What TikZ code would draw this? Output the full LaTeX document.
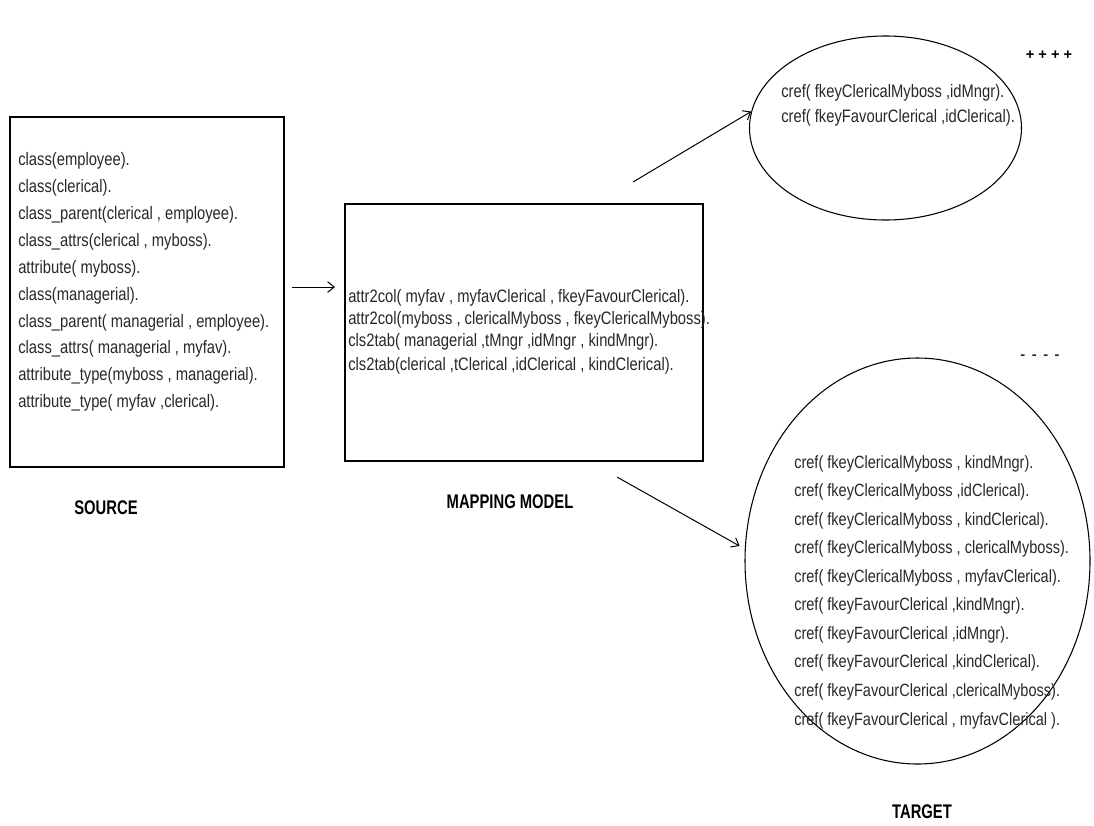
\documentclass[tikz,border=0pt]{standalone}
\usepackage{fontspec}
\setmainfont{Liberation Sans}
\newfontfamily\narrowfont[FakeStretch=0.82]{Liberation Sans}
\newfontfamily\titlefont[FakeStretch=0.75]{Liberation Sans}
\usetikzlibrary{shapes.geometric,arrows.meta}
\definecolor{txt}{RGB}{40,40,40}
\begin{document}
\begin{tikzpicture}[x=0.75pt,y=-0.75pt,
  boxshape/.style={draw=black, line width=0.8pt, rectangle, inner sep=0pt},
  ellshape/.style={draw=black, line width=0.8pt, ellipse, inner sep=0pt},
  codetext/.style={text=txt, align=left, anchor=west, inner sep=0pt,
    font=\narrowfont\fontsize{13.5}{18}\selectfont},
  titletext/.style={text=black, inner sep=0pt, font=\titlefont\bfseries\fontsize{14.8}{17}\selectfont},
  arr/.style={draw=black, line width=0.75pt, -{Straight Barb[length=5pt,width=8pt]}}]
\useasboundingbox (0,0) rectangle (1094,825);
\fill[white] (0,0) rectangle (1094,825);

% boxes and ellipses
\node[boxshape, minimum width=205.5pt, minimum height=262.5pt] (src) at (147,292) {};
\node[boxshape, minimum width=268.5pt, minimum height=192.75pt] (map) at (524,332.5) {};
\node[ellshape, minimum width=204pt, minimum height=138pt] (tgtA) at (885.5,128) {};
\node[ellshape, minimum width=258.75pt, minimum height=304.5pt] (tgtB) at (917.5,561) {};

% texts
\node[codetext, font=\narrowfont\fontsize{13.5}{20.2}\selectfont] (srctext) at (18,282) {%
class(employee).\\
class(clerical).\\
class\_parent(clerical , employee).\\
class\_attrs(clerical , myboss).\\
attribute( myboss).\\
class(managerial).\\
class\_parent( managerial , employee).\\
class\_attrs( managerial , myfav).\\
attribute\_type(myboss , managerial).\\
attribute\_type( myfav ,clerical).};

\node[codetext, font=\narrowfont\fontsize{13.5}{16.4}\selectfont] (maptext) at (348,332) {%
attr2col( myfav , myfavClerical , fkeyFavourClerical).\\
attr2col(myboss , clericalMyboss , fkeyClericalMyboss).\\
cls2tab( managerial ,tMngr ,idMngr , kindMngr).\\[1.5pt]
cls2tab(clerical ,tClerical ,idClerical , kindClerical).};

\node[codetext, font=\narrowfont\fontsize{13.5}{18.5}\selectfont] (tgtAtext) at (781,105.5) {%
cref( fkeyClericalMyboss ,idMngr).\\
cref( fkeyFavourClerical ,idClerical).};

\node[codetext, font=\narrowfont\fontsize{13.3}{21.4}\selectfont] (tgtBtext) at (794,592) {%
cref( fkeyClericalMyboss , kindMngr).\\
cref( fkeyClericalMyboss ,idClerical).\\
cref( fkeyClericalMyboss , kindClerical).\\
cref( fkeyClericalMyboss , clericalMyboss).\\
cref( fkeyClericalMyboss , myfavClerical).\\
cref( fkeyFavourClerical ,kindMngr).\\
cref( fkeyFavourClerical ,idMngr).\\
cref( fkeyFavourClerical ,kindClerical).\\
cref( fkeyFavourClerical ,clericalMyboss).\\
cref( fkeyFavourClerical , myfavClerical ).};

% titles
\node[titletext] (srclabel) at (106,508) {SOURCE};
\node[titletext] (maplabel) at (510,502) {MAPPING MODEL};
\node[titletext] (tgtlabel) at (922,812) {TARGET};
\node[text=black, inner sep=0pt, font=\bfseries\fontsize{11}{12}\selectfont] (plus) at (1049,55) {+ + + +};
\node[text=txt, inner sep=0pt, font=\bfseries\fontsize{11}{12}\selectfont] (minus) at (1040,357) {-\, -\, -\, -};

% connectors
\coordinate (a1s) at (292,287);
\coordinate (a1e) at (335,287);
\coordinate (a2s) at (633,182);
\coordinate (a3s) at (617,477);
\draw[arr] (a1s) -- (a1e);
\draw[arr] (a2s) -- (tgtA.173);
\draw[arr, shorten >=4.5pt] (a3s) -- (tgtB.176);
\end{tikzpicture}
\end{document}
